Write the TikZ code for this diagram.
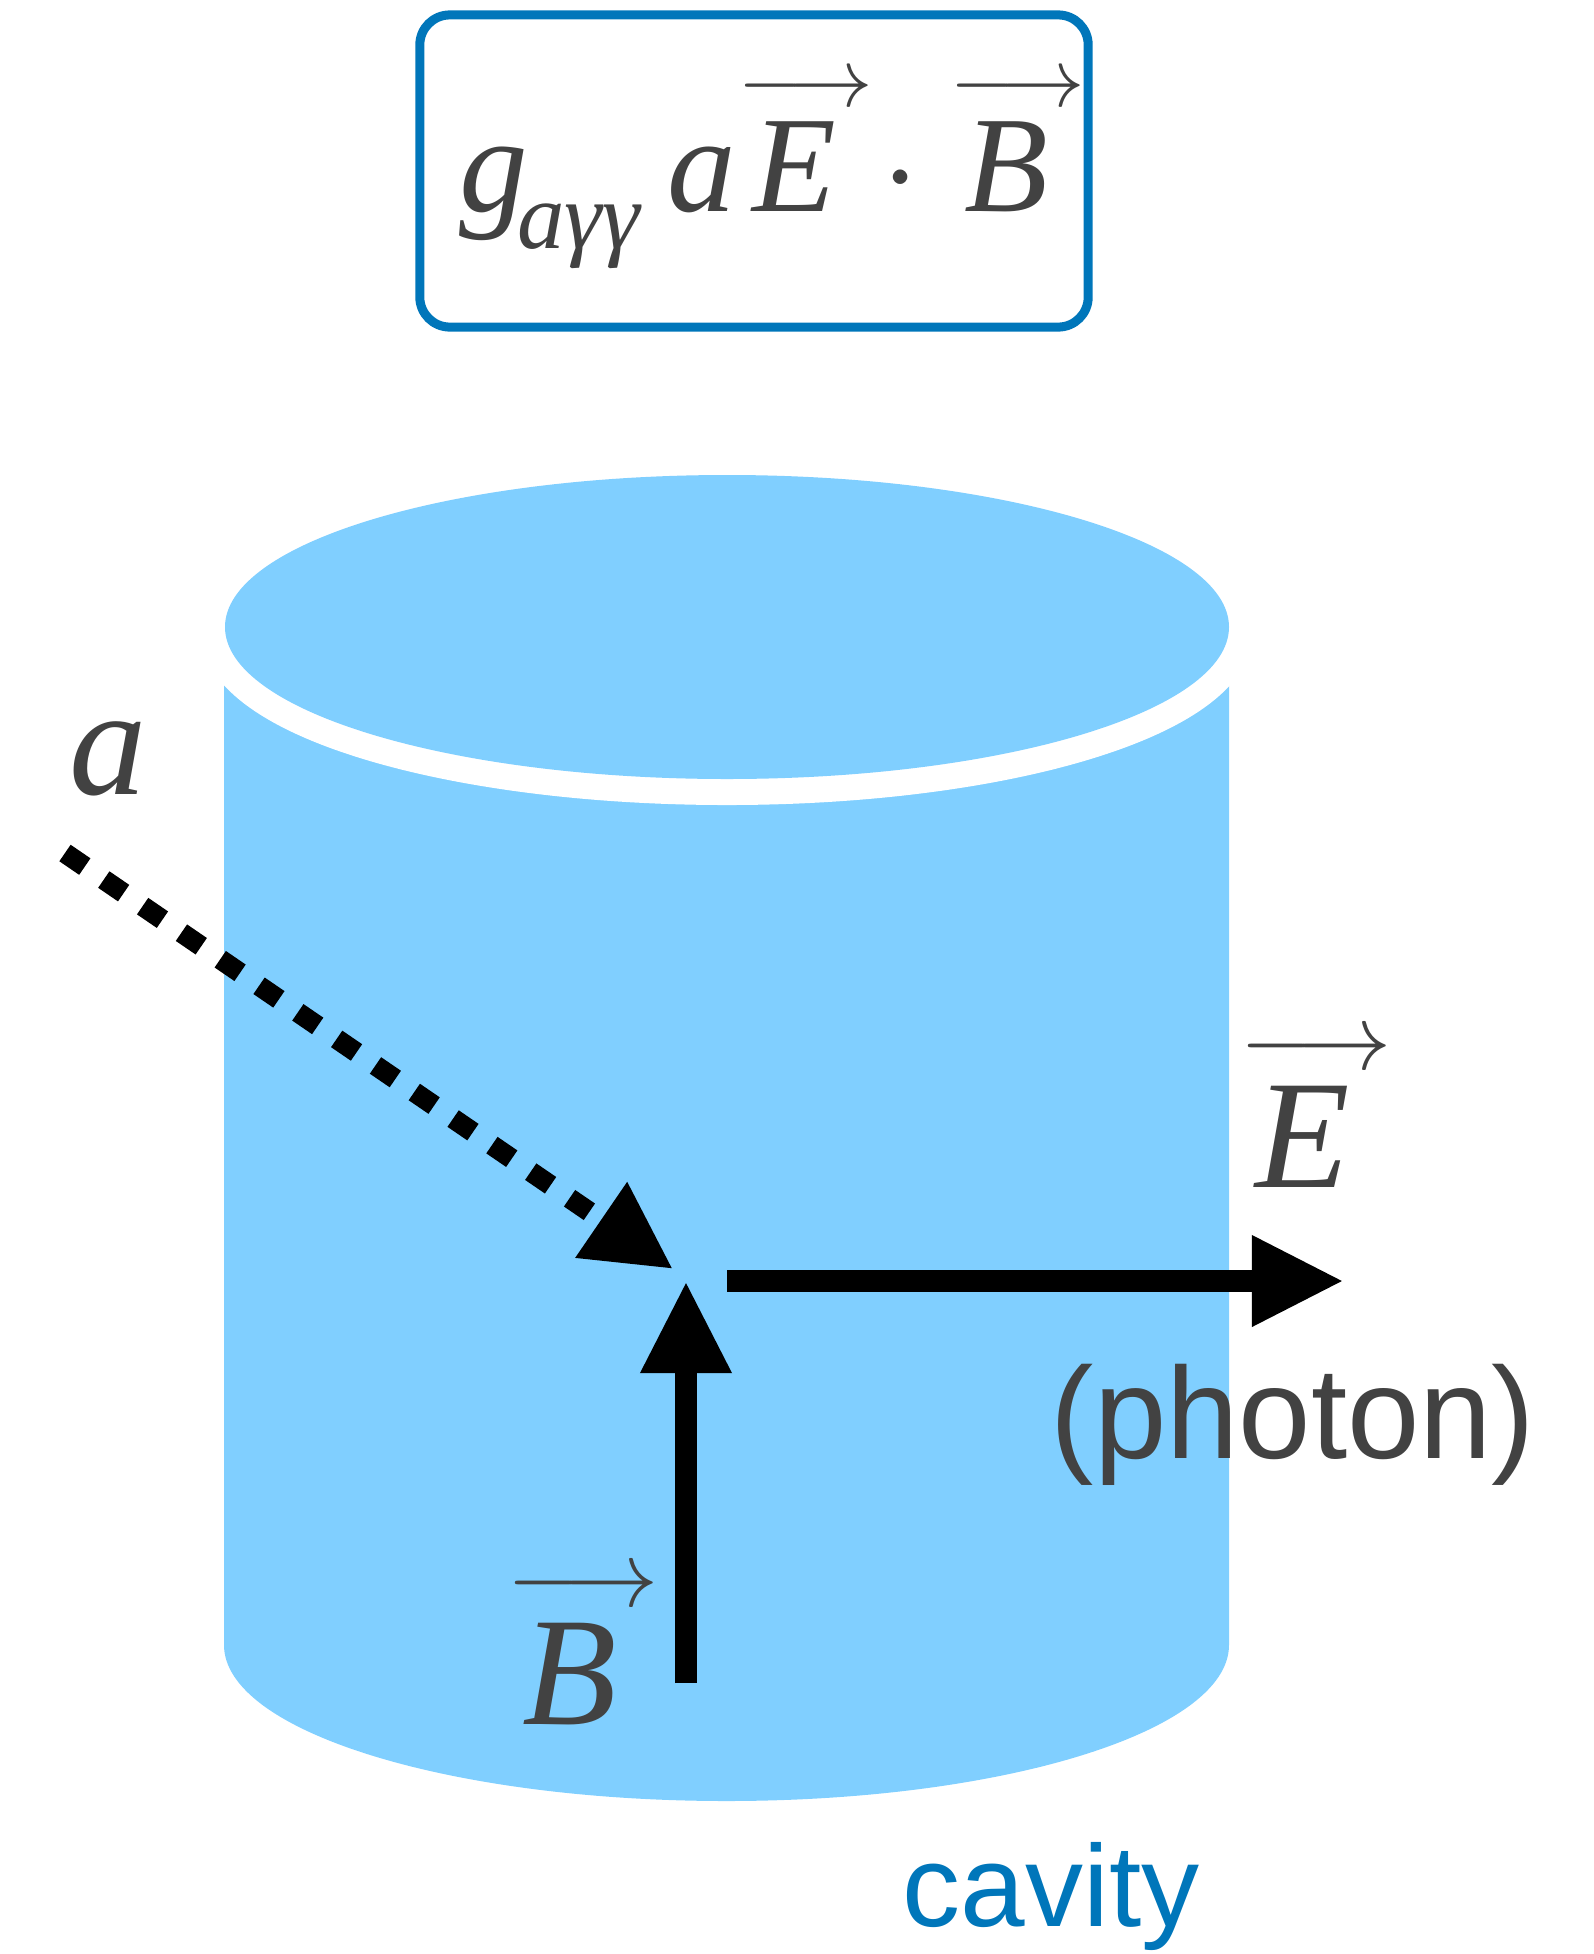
\documentclass[tikz,border=0pt]{standalone}
\usepackage{fix-cm}
\usepackage{fontspec}
\newfontfamily\labelfont{Liberation Sans}
\newfontfamily\timesfont{Liberation Serif}
\usetikzlibrary{arrows.meta}

\definecolor{cylblue}{RGB}{128,207,255}
\definecolor{boxblue}{RGB}{0,118,186}
\definecolor{textgray}{RGB}{66,66,66}

\newcommand{\itl}[1]{{\timesfont\itshape #1}}
% letter with a thin arrow over it, the arrow takes no width
\newcommand{\fieldvec}[1]{\mbox{\rlap{\hspace*{-0.1em}\raisebox{0.76em}{\resizebox{0.98em}{!}{$\longrightarrow$}}}\itl{#1}}}

\begin{document}
\begin{tikzpicture}[x=0.01cm, y=0.01cm,
  fieldarrow/.style={line width=0.22cm, -{Triangle[length=0.92cm, width=0.85cm]}},
  axionarrow/.style={line width=0.2cm, dash pattern=on 0.24cm off 0.23cm,
    -{Triangle[length=0.87cm, width=0.86cm]}},
  veclabel/.style={text=textgray, font=\fontsize{44}{50}\selectfont, anchor=base},
  wordlabel/.style={font=\labelfont\fontsize{37}{42}\selectfont, anchor=base}]
  \useasboundingbox (0,0) rectangle (1593,-1954);

  % coupling term
  \node[draw=boxblue, line width=0.09cm, rounded corners=0.3cm,
    minimum width=6.68cm, minimum height=3.12cm, text=textgray,
    text height=1.3cm, text depth=0.5cm,
    font=\fontsize{39}{44}\selectfont] (coupling) at (754,-171)
    {\itl{g}\hspace{-0.08em}\raisebox{-0.27em}{\fontsize{27}{30}\selectfont\itl{aγγ}}\hspace{0.2em}\itl{a}\hspace{0.12em}%
     \fieldvec{E}\hspace{0.33em}$\cdot$\hspace{0.33em}\fieldvec{B}\hspace{0.6cm}};

  % cavity body, white rim, lid
  \fill[cylblue] (224,-627) -- (224,-1645)
    arc[start angle=180, end angle=360, x radius=502.5, y radius=156]
    -- (1229,-627) -- cycle;
  \draw[white, line width=0.52cm] (727,-627) ellipse [x radius=502, y radius=152];
  \fill[cylblue] (727,-627) ellipse [x radius=502, y radius=152];

  % end points of the three arrows
  \coordinate (atail) at (65,-853);
  \coordinate (atip) at (673,-1269);
  \coordinate (btail) at (686,-1683);
  \coordinate (btip) at (686,-1281);
  \coordinate (etail) at (727,-1281);
  \coordinate (etip) at (1344,-1281);

  \draw[axionarrow] (atail) -- (atip);
  \draw[fieldarrow] (btail) -- (btip);
  \draw[fieldarrow] (etail) -- (etip);

  % labels
  \node[text=textgray, font=\fontsize{44}{50}\selectfont, anchor=base] (alabel) at (108,-794) {\itl{a}};
  \node[veclabel] (elabel) at (1303,-1187) {\fieldvec{E}};
  \node[veclabel] (blabel) at (570,-1724) {\fieldvec{B}};
  \node[wordlabel, text=textgray] (photon) at (1293,-1458) {(photon)};
  \node[wordlabel, text=boxblue, font=\labelfont\fontsize{33}{40}\selectfont] (cavity) at (1051,-1926) {cavity};
\end{tikzpicture}
\end{document}
